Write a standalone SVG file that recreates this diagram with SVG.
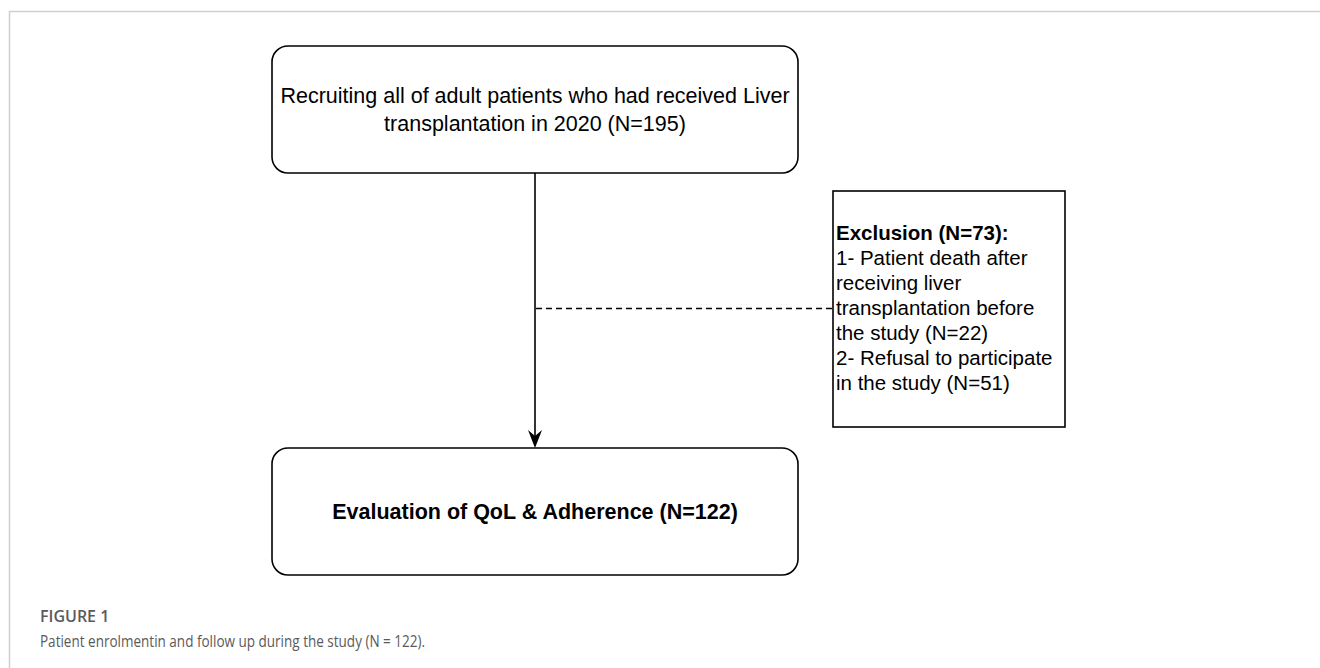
<svg xmlns="http://www.w3.org/2000/svg" width="1320" height="668" viewBox="0 0 1320 668">
<style>
.box{fill:#fff;stroke:#000;stroke-width:1.6}
.t{font-family:"Liberation Sans",Arial,sans-serif;fill:#000}
.frame{stroke:#cfcfcf;stroke-width:1.5;fill:none}
.cap{font-family:"Open Sans","Liberation Sans",sans-serif;fill:#5a5a5a}
</style>
<rect width="1320" height="668" fill="#fff"/>
<path class="frame" d="M9.5,668 V11.5 H1320"/>
<g id="connectors">
<line x1="535" y1="173" x2="535" y2="440" stroke="#000" stroke-width="1.6"/>
<path d="M528,430 L535,436 L542,430 L535,448 Z" fill="#000"/>
<line x1="536" y1="308.5" x2="832" y2="308.5" stroke="#000" stroke-width="1.3" stroke-dasharray="6 4"/>
</g>
<g id="recruit">
<rect class="box" x="272" y="46" width="526" height="127" rx="16"/>
<text class="t" font-size="21.5" text-anchor="middle"><tspan x="535" y="103">Recruiting all of adult patients who had received Liver</tspan><tspan x="535" y="131">transplantation in 2020 (N=195)</tspan></text>
</g>
<g id="exclusion">
<rect class="box" x="833" y="191" width="232" height="236"/>
<text class="t" font-size="20.5"><tspan x="836" y="240" font-weight="bold">Exclusion (N=73):</tspan><tspan x="836" y="265">1- Patient death after</tspan><tspan x="836" y="290">receiving liver</tspan><tspan x="836" y="315">transplantation before</tspan><tspan x="836" y="340">the study (N=22)</tspan><tspan x="836" y="365">2- Refusal to participate</tspan><tspan x="836" y="390">in the study (N=51)</tspan></text>
</g>
<g id="evaluation">
<rect class="box" x="272" y="448" width="526" height="127" rx="16"/>
<text class="t" font-size="21.5" font-weight="bold" text-anchor="middle" x="535" y="519">Evaluation of QoL &amp; Adherence (N=122)</text>
</g>
<g id="caption">
<text class="cap" x="40" y="622" font-size="16" font-weight="600">FIGURE 1</text>
<text class="cap" x="40" y="647" font-size="15.5" textLength="385" lengthAdjust="spacingAndGlyphs">Patient enrolmentin and follow up during the study (N = 122).</text>
</g>
</svg>
